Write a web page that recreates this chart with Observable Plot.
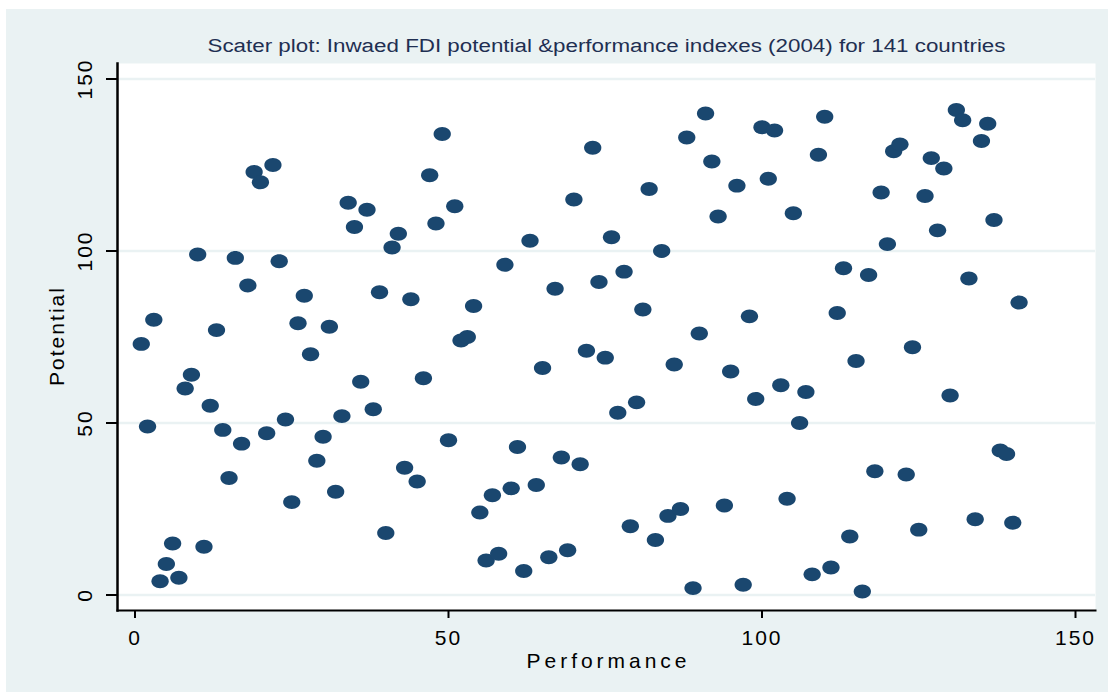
<!DOCTYPE html>
<html>
<head>
<meta charset="utf-8">
<script src="https://cdn.jsdelivr.net/npm/d3@7"></script>
<script src="https://cdn.jsdelivr.net/npm/@observablehq/plot@0.6"></script>
<style>
  html, body { margin: 0; padding: 0; background: #ffffff; }
  #wrap { position: relative; width: 1112px; height: 698px; overflow: hidden; }
  #bg { position: absolute; left: 6px; top: 9px; width: 1102px; height: 683px; background: #eaf2f3; }
  #chart { position: absolute; left: 0; top: 0; }
  #chart svg text { font-family: "Liberation Sans", Arial, sans-serif; }
</style>
</head>
<body>
<div id="wrap"><div id="bg"></div><div id="chart"></div></div>
<script>
// Inward FDI performance rank (x) and potential rank (y), 2004, 141 countries
const performance = [
  1, 2, 3, 4, 5, 6, 7, 8, 9, 10, 11, 12, 13, 14, 15, 16, 17, 18, 19, 20,
  21, 22, 23, 24, 25, 26, 27, 28, 29, 30, 31, 32, 33, 34, 35, 36, 37, 38, 39, 40,
  41, 42, 43, 44, 45, 46, 47, 48, 49, 50, 51, 52, 53, 54, 55, 56, 57, 58, 59, 60,
  61, 62, 63, 64, 65, 66, 67, 68, 69, 70, 71, 72, 73, 74, 75, 76, 77, 78, 79, 80,
  81, 82, 83, 84, 85, 86, 87, 88, 89, 90, 91, 92, 93, 94, 95, 96, 97, 98, 99, 100,
  101, 102, 103, 104, 105, 106, 107, 108, 109, 110, 111, 112, 113, 114, 115, 116, 117, 118, 119, 120,
  121, 122, 123, 124, 125, 126, 127, 128, 129, 130, 131, 132, 133, 134, 135, 136, 137, 138, 139, 140,
  141
];
const potential = [
  73, 49, 80, 4, 9, 15, 5, 60, 64, 99, 14, 55, 77, 48, 34, 98, 44, 90, 123, 120,
  47, 125, 97, 51, 27, 79, 87, 70, 39, 46, 78, 30, 52, 114, 107, 62, 112, 54, 88, 18,
  101, 105, 37, 86, 33, 63, 122, 108, 134, 45, 113, 74, 75, 84, 24, 10, 29, 12, 96, 31,
  43, 7, 103, 32, 66, 11, 89, 40, 13, 115, 38, 71, 130, 91, 69, 104, 53, 94, 20, 56,
  83, 118, 16, 100, 23, 67, 25, 133, 2, 76, 140, 126, 110, 26, 65, 119, 3, 81, 57, 136,
  121, 135, 61, 28, 111, 50, 59, 6, 128, 139, 8, 82, 95, 17, 68, 1, 93, 36, 117, 102,
  129, 131, 35, 72, 19, 116, 127, 106, 124, 58, 141, 138, 92, 22, 132, 137, 109, 42, 41, 21,
  85
];
const xTicks = [0, 50, 100, 150];
const yTicks = [0, 50, 100, 150];
const titleText = "Scater plot: Inwaed FDI potential &performance indexes (2004) for 141 countries";
const xTitle = "Performance";
const yTitle = "Potential";

const rows = performance.map((p, i) => ({performance: p, potential: potential[i]}));

// Horizontally stretched circle marker
const ellipse = {
  draw(context, size) {
    const r = Math.sqrt(size / Math.PI);
    const rx = r * 1.2, ry = r * 0.97, k = 0.5523;
    context.moveTo(rx, 0);
    context.bezierCurveTo(rx, ry * k, rx * k, ry, 0, ry);
    context.bezierCurveTo(-rx * k, ry, -rx, ry * k, -rx, 0);
    context.bezierCurveTo(-rx, -ry * k, -rx * k, -ry, 0, -ry);
    context.bezierCurveTo(rx * k, -ry, rx, -ry * k, rx, 0);
    context.closePath();
  }
};

const chart = Plot.plot({
  width: 1112,
  height: 698,
  marginLeft: 117,
  marginRight: 17,
  marginTop: 63,
  marginBottom: 88,
  style: {background: "transparent", fontFamily: "Liberation Sans, Arial, sans-serif", color: "black"},
  x: {domain: [0, 150], range: [134.5, 1075]},
  y: {domain: [0, 150], range: [594.5, 78.5]},
  marks: [
    Plot.frame({fill: "white", stroke: null}),
    Plot.ruleY(yTicks, {stroke: "#eaf2f3", strokeWidth: 2.5}),
    Plot.dot(rows, {x: "performance", y: "potential", r: 7.2, symbol: ellipse, fill: "#1a476f", stroke: null}),
    Plot.axisX({ticks: xTicks, tickSize: 8, tickPadding: 12, fontSize: 21, strokeWidth: 2, stroke: "black", fill: "black", label: null}),
    Plot.axisY({ticks: yTicks, tickSize: 11, tickFormat: () => "", strokeWidth: 2, stroke: "black", label: null}),
    Plot.text(yTicks, {y: d => d, text: d => String(d), frameAnchor: "left", dx: -32, rotate: -90,
      textAnchor: "middle", lineAnchor: "middle", fontSize: 21, fill: "black"}),
    Plot.frame({anchor: "left", stroke: "black", strokeWidth: 2.5}),
    Plot.frame({anchor: "bottom", stroke: "black", strokeWidth: 2}),
    Plot.text([xTitle], {frameAnchor: "bottom", dy: 51, textAnchor: "middle", lineAnchor: "middle", fontSize: 21, fill: "black"}),
    Plot.text([yTitle], {frameAnchor: "left", dx: -60, rotate: -90, textAnchor: "middle", lineAnchor: "middle", fontSize: 21, fill: "black"}),
    Plot.text([titleText], {frameAnchor: "top", dy: -17, textAnchor: "middle", lineAnchor: "middle", fontSize: 18, fill: "#1f2f52"})
  ]
});

document.getElementById("chart").appendChild(chart);

// Letter spacing in the style of the original graph engine
const texts = d3.select(chart).selectAll("text");
texts.filter(function () { return this.textContent === titleText; })
  .attr("textLength", 798)
  .attr("lengthAdjust", "spacingAndGlyphs");
texts.filter(function () { return this.textContent === xTitle; })
  .attr("textLength", 160)
  .attr("lengthAdjust", "spacing");
texts.filter(function () { return this.textContent === yTitle; })
  .attr("textLength", 98)
  .attr("lengthAdjust", "spacing");
texts.filter(function () { return /^\d+$/.test(this.textContent); })
  .style("letter-spacing", "2px");
</script>
</body>
</html>
